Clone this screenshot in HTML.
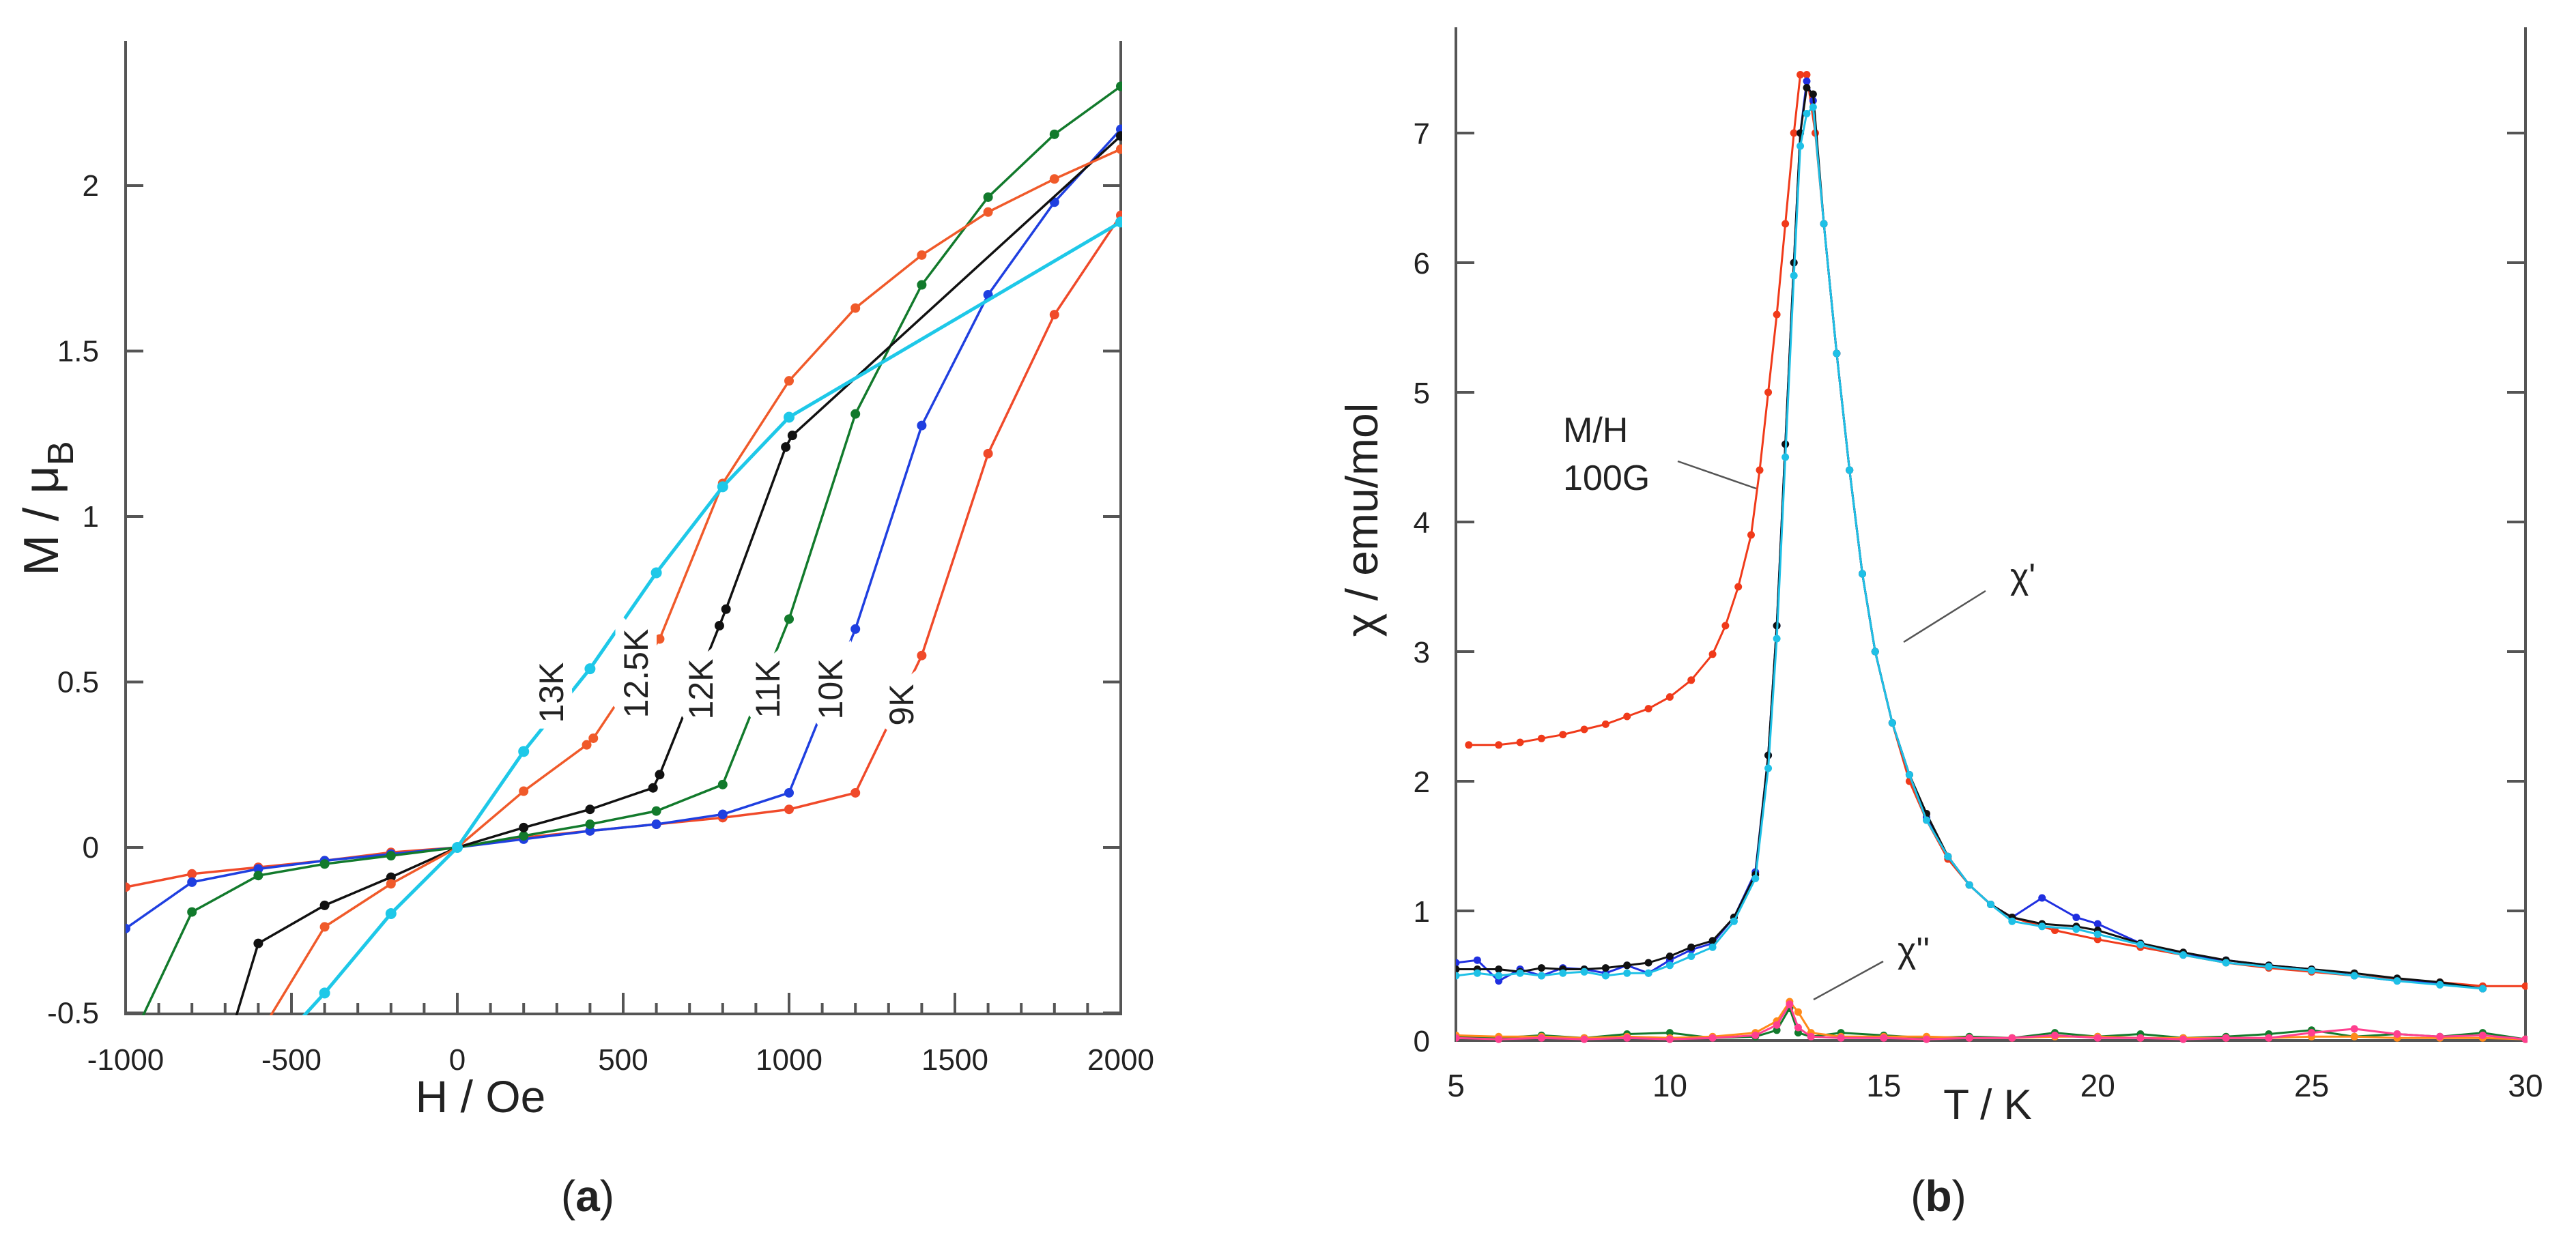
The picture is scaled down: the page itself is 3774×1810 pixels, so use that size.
<!DOCTYPE html>
<html><head><meta charset="utf-8"><style>
html,body{margin:0;padding:0;background:#fff;}
svg{display:block;}
text{font-family:"Liberation Sans",sans-serif;fill:#222;}
</style></head><body>
<svg id="fig" width="3774" height="1810" viewBox="0 0 3774 1810" xmlns="http://www.w3.org/2000/svg">
<defs>
<clipPath id="clipA"><rect x="184" y="60" width="1460" height="1428"/></clipPath>
<clipPath id="clipB"><rect x="2133" y="40" width="1570" height="1490"/></clipPath>
</defs>
<g id="panelA"></g>
<g id="panelB"></g>
</svg>
<script>
// ---------- Panel A data ----------
const aField = [-1000,-800,-600,-400,-200,0,200,400,600,800,1000,1200,1400,1600,1800,2000];
const a9K  = [-0.12,-0.08,-0.06,-0.04,-0.015,0,0.03,0.05,0.07,0.09,0.115,0.165,0.58,1.19,1.61,1.91];
const a10K = [-0.245,-0.105,-0.065,-0.04,-0.02,0,0.025,0.05,0.07,0.10,0.165,0.66,1.275,1.67,1.95,2.17];
const a11K = [-0.62,-0.195,-0.085,-0.05,-0.025,0,0.035,0.07,0.11,0.19,0.69,1.31,1.70,1.965,2.155,2.30];
const a12KField = [-800,-600,-400,-200,0,200,400,590,610,790,810,990,1010,2000];
const a12K = [-0.95,-0.29,-0.175,-0.09,0,0.06,0.115,0.18,0.22,0.67,0.72,1.21,1.245,2.15];
const a125KField = [-600,-400,-200,0,200,390,410,610,800,1000,1200,1400,1600,1800,2000];
const a125K = [-0.57,-0.24,-0.11,0,0.17,0.31,0.33,0.63,1.10,1.41,1.63,1.79,1.92,2.02,2.11];
const a13KField = [-500,-400,-200,0,200,400,600,800,1000,2000];
const a13K = [-0.55,-0.44,-0.2,0,0.29,0.54,0.83,1.09,1.30,1.89];
const aYTicks = [-0.5,0,0.5,1,1.5,2];
const aYLabels = ["-0.5","0","0.5","1","1.5","2"];
const aXTicks = [-1000,-500,0,500,1000,1500,2000];
const aXLabels = ["-1000","-500","0","500","1000","1500","2000"];

// ---------- Panel B data ----------
const bTempMH = [5.3,6,6.5,7,7.5,8,8.5,9,9.5,10,10.5,11,11.3,11.6,11.9,12.1,12.3,12.5,12.7,12.9,13.05,13.2,13.4,13.6,13.9,14.2,14.5,14.8,15.2,15.6,16,16.5,17,17.5,18,19,20,21,22,23,24,25,26,27,28,29,30];
const bMH = [2.28,2.28,2.30,2.33,2.36,2.40,2.44,2.50,2.56,2.65,2.78,2.98,3.2,3.5,3.9,4.4,5.0,5.6,6.3,7.0,7.45,7.45,7.0,6.3,5.3,4.4,3.6,3.0,2.45,2.0,1.7,1.4,1.2,1.05,0.95,0.85,0.78,0.72,0.66,0.60,0.56,0.53,0.50,0.47,0.45,0.42,0.42];
const bTempChi = [5,5.5,6,6.5,7,7.5,8,8.5,9,9.5,10,10.5,11,11.5,12,12.3,12.5,12.7,12.9,13.05,13.2,13.35,13.6,13.9,14.2,14.5,14.8,15.2,15.6,16,16.5,17,17.5,18,18.7,19.5,20,21,22,23,24,25,26,27,28,29];
const bChiBlue  = [0.60,0.62,0.46,0.55,0.50,0.56,0.55,0.52,0.58,0.52,0.62,0.70,0.75,0.95,1.30,2.2,3.2,4.6,6.0,7.0,7.40,7.25,6.3,5.3,4.4,3.6,3.0,2.45,2.05,1.72,1.42,1.2,1.05,0.95,1.10,0.95,0.90,0.75,0.66,0.62,0.58,0.55,0.50,0.46,0.44,0.40];
const bChiBlack = [0.55,0.55,0.55,0.53,0.56,0.55,0.55,0.56,0.58,0.60,0.65,0.72,0.77,0.95,1.28,2.2,3.2,4.6,6.0,7.0,7.35,7.3,6.3,5.3,4.4,3.6,3.0,2.45,2.05,1.75,1.42,1.2,1.05,0.95,0.90,0.88,0.85,0.75,0.68,0.62,0.58,0.55,0.52,0.48,0.45,0.40];
const bChiCyan  = [0.50,0.52,0.50,0.52,0.50,0.52,0.53,0.50,0.52,0.52,0.58,0.65,0.72,0.92,1.25,2.1,3.1,4.5,5.9,6.9,7.15,7.2,6.3,5.3,4.4,3.6,3.0,2.45,2.05,1.70,1.42,1.2,1.05,0.92,0.88,0.86,0.82,0.74,0.66,0.60,0.57,0.54,0.50,0.46,0.43,0.40];
const bTempChi2 = [5,6,7,8,9,10,11,12,12.5,12.8,13.0,13.3,14,15,16,17,18,19,20,21,22,23,24,25,26,27,28,29,30];
const bChi2Orange = [0.04,0.03,0.03,0.02,0.03,0.02,0.03,0.06,0.15,0.30,0.22,0.06,0.03,0.03,0.03,0.02,0.02,0.03,0.03,0.02,0.02,0.02,0.02,0.03,0.03,0.02,0.02,0.02,0.01];
const bChi2Pink   = [0.02,0.01,0.02,0.01,0.02,0.01,0.02,0.04,0.12,0.28,0.10,0.03,0.02,0.02,0.01,0.02,0.02,0.04,0.02,0.02,0.01,0.02,0.02,0.06,0.09,0.05,0.03,0.04,0.01];
const bChi2Green  = [0.03,0.02,0.04,0.02,0.05,0.06,0.02,0.03,0.08,0.25,0.06,0.03,0.06,0.04,0.02,0.03,0.02,0.06,0.03,0.05,0.02,0.03,0.05,0.08,0.03,0.05,0.03,0.06,0.01];
const bYTicks = [0,1,2,3,4,5,6,7];
const bYLabels = ["0","1","2","3","4","5","6","7"];
const bXTicks = [5,10,15,20,25,30];
const bXLabels = ["5","10","15","20","25","30"];

const NS = "http://www.w3.org/2000/svg";
function mk(tag, attrs, parent){ const e=document.createElementNS(NS,tag); for(const k in attrs) e.setAttribute(k,attrs[k]); parent.appendChild(e); return e; }

// axis functions
const axA = { x: h => 184 + (h + 1000) / 3000 * 1458, y: m => 1242 - m * 485 };
const axB = { x: t => 2133 + (t - 5) / 25 * 1567, y: v => 1525 - v * 190 };

const gA = document.getElementById('panelA');
const gB = document.getElementById('panelB');

// ---------- Panel A axes ----------
const axisA = mk('g',{stroke:'#555','stroke-width':4,fill:'none'},gA);


mk('line',{x1:184,y1:60,x2:184,y2:1488},axisA);
mk('line',{x1:1642,y1:60,x2:1642,y2:1488},axisA);
mk('line',{x1:182,y1:1486,x2:1644,y2:1486},axisA);
aYTicks.forEach((v,i)=>{
  const y=axA.y(v);
  mk('line',{x1:184,y1:y,x2:210,y2:y},axisA);
  mk('line',{x1:1642,y1:y,x2:1616,y2:y},axisA);
  const t=mk('text',{x:145,y:y+15,'text-anchor':'end','font-size':44},gA);
  t.textContent=aYLabels[i];
  
  
});
for(let h=-1000; h<=2000; h+=100){
  const x=axA.x(h); const major = h%500===0;
  mk('line',{x1:x,y1:1486,x2:x,y2:major?1455:1470},axisA);
}
aXTicks.forEach((v,i)=>{
  const t=mk('text',{x:axA.x(v),y:1568,'text-anchor':'middle','font-size':44},gA);
  t.textContent=aXLabels[i];
  
  
});
{
 const t=mk('text',{x:704,y:1630,'text-anchor':'middle','font-size':66},gA);
 t.textContent='H / Oe';
 
 
 const ty=mk('text',{x:0,y:0,'text-anchor':'middle','font-size':72,transform:'translate(85,745) rotate(-90)'},gA);
 ty.innerHTML='M / μ<tspan dy="22" font-size="54">B</tspan>';
 
 
 const pa=mk('text',{x:861,y:1775,'text-anchor':'middle','font-size':64,'font-family':'Liberation Serif, serif'},gA);
 pa.innerHTML='(<tspan font-weight="bold">a</tspan>)';
 
 
}
const plotA = mk('g',{'clip-path':'url(#clipA)'},gA);


const seriesA = [
  ['curve-9k', aField, a9K, '#f04a2a'],
  ['curve-10k', aField, a10K, '#1f3fe0'],
  ['curve-11k', aField, a11K, '#127a2c'],
  ['curve-12k', a12KField, a12K, '#111'],
  ['curve-12-5k', a125KField, a125K, '#f05a2a'],
  ['curve-13k', a13KField, a13K, '#1ec8e8']
];
seriesA.forEach(([name,xs,ys,col])=>{
  const g=mk('g',{},plotA);
  
  
  const pts=xs.map((x,i)=>axA.x(x)+','+axA.y(ys[i])).join(' ');
  mk('polyline',{points:pts,fill:'none',stroke:col,'stroke-width':name==='curve-13k'?5:3.5},g);
  xs.forEach((x,i)=>{
    const c=mk('circle',{cx:axA.x(x),cy:axA.y(ys[i]),r:name==='curve-13k'?8:7,fill:col},g);
    
    
  });
});
// curve labels (rotated)
const aLabelText = ['13K','12.5K','12K','11K','10K','9K'];
const aLabelPos = [[808,1015],[932,987],[1027,1010],[1125,1010],[1217,1010],[1321,1033]];
aLabelText.forEach((s,i)=>{
  const t=mk('text',{x:0,y:0,'text-anchor':'middle','font-size':50,stroke:'#fff','stroke-width':26,'paint-order':'stroke',transform:`translate(${aLabelPos[i][0]+17},${aLabelPos[i][1]}) rotate(-90)`},gA);
  t.textContent=s;
  
  
});

// ---------- Panel B axes ----------
const axisB = mk('g',{stroke:'#555','stroke-width':4,fill:'none'},gB);


mk('line',{x1:2133,y1:40,x2:2133,y2:1527},axisB);
mk('line',{x1:3700,y1:40,x2:3700,y2:1527},axisB);
mk('line',{x1:2131,y1:1525,x2:3702,y2:1525},axisB);
bYTicks.forEach((v,i)=>{
  const y=axB.y(v);
  mk('line',{x1:2133,y1:y,x2:2160,y2:y},axisB);
  mk('line',{x1:3700,y1:y,x2:3673,y2:y},axisB);
  const t=mk('text',{x:2095,y:y+16,'text-anchor':'end','font-size':44},gB);
  t.textContent=bYLabels[i];
  
  
});
bXTicks.forEach((v,i)=>{
  const t=mk('text',{x:axB.x(v),y:1607,'text-anchor':'middle','font-size':46},gB);
  t.textContent=bXLabels[i];
  
  
});
{
 const t=mk('text',{x:2912,y:1640,'text-anchor':'middle','font-size':62},gB);
 t.textContent='T / K';
 
 
 const ty=mk('text',{x:0,y:0,'text-anchor':'middle','font-size':66,transform:'translate(2018,762) rotate(-90)'},gB);
 ty.textContent='χ / emu/mol';
 
 
 const pb=mk('text',{x:2840,y:1775,'text-anchor':'middle','font-size':64,'font-family':'Liberation Serif, serif'},gB);
 pb.innerHTML='(<tspan font-weight="bold">b</tspan>)';
 
 
}
const plotB = mk('g',{'clip-path':'url(#clipB)'},gB);


const seriesB = [
  ['chi2-green', bTempChi2, bChi2Green, '#127a2c'],
  ['chi2-orange', bTempChi2, bChi2Orange, '#ff8a1a'],
  ['chi2-pink', bTempChi2, bChi2Pink, '#ff3f8f'],
  ['mh-100g', bTempMH, bMH, '#f03a1a'],
  ['chi-prime-blue', bTempChi, bChiBlue, '#1f2fe0'],
  ['chi-prime-black', bTempChi, bChiBlack, '#111'],
  ['chi-prime-cyan', bTempChi, bChiCyan, '#1ec0e6']
];
seriesB.forEach(([name,xs,ys,col])=>{
  const g=mk('g',{},plotB);
  
  
  const pts=xs.map((x,i)=>axB.x(x)+','+axB.y(ys[i])).join(' ');
  mk('polyline',{points:pts,fill:'none',stroke:col,'stroke-width':3},g);
  xs.forEach((x,i)=>{
    const c=mk('circle',{cx:axB.x(x),cy:axB.y(ys[i]),r:5.5,fill:col},g);
    
    
  });
});
// annotations
const ann = mk('g',{},gB);


mk('line',{x1:2458,y1:676,x2:2573,y2:716,stroke:'#555','stroke-width':2.5},ann);
mk('line',{x1:2909,y1:866,x2:2789,y2:941,stroke:'#555','stroke-width':2.5},ann);
mk('line',{x1:2759,y1:1409,x2:2657,y2:1465,stroke:'#555','stroke-width':2.5},ann);
[['M/H',2290,648,'mh-label'],['100G',2290,718,'mh-field-label'],["χ'",2945,862,'chi-prime-label'],["χ''",2780,1410,'chi-double-prime-label']].forEach(([s,x,y,n])=>{
  const t=mk('text',{x:x,y:y,'font-size':52},ann);
  t.textContent=s;
  
  
});
</script>
</body></html>
